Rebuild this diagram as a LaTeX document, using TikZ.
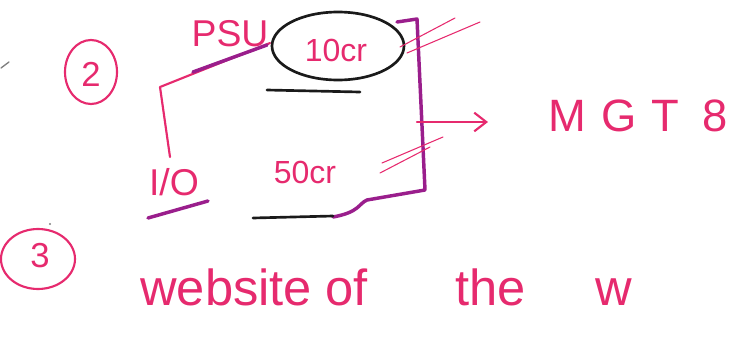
\documentclass[tikz,border=0pt]{standalone}
\usepackage{fontspec}
\setmainfont{Liberation Sans}
\usetikzlibrary{arrows.meta}
\definecolor{inkpink}{HTML}{E62A6E}
\definecolor{inkpurple}{HTML}{9A1E8C}
\definecolor{inkblack}{HTML}{1A1A1A}
\tikzset{
  pinkline/.style={draw=inkpink, line width=1.6pt, line cap=round, line join=round},
  thinpink/.style={draw=inkpink, line width=0.8pt, line cap=round},
  purpleline/.style={draw=inkpurple, line width=2.6pt, line cap=round, line join=round},
  blackline/.style={draw=inkblack, line width=2pt, line cap=round},
  handtext/.style={text=inkpink, inner sep=0pt, font=\fontsize{#1}{#1}\selectfont},
}
\begin{document}
\begin{tikzpicture}[x=0.75pt,y=-0.75pt]
\useasboundingbox (0,0) rectangle (744,354);
% small tick at left
\draw[draw=gray, line width=1pt, line cap=round] (1,68) -- (9,62);
% circled 2
\draw[pinkline] (91,72) ellipse [x radius=26, y radius=32];
\node[handtext=26] (two) at (91,74) {2};
% PSU label and underline
\node[handtext=28] (psu) at (230,34) {PSU};
\draw[pinkline] (170,157) -- (160,87) -- (270,43);
\draw[purpleline] (193,72) -- (267,45);
% circled 10cr
\draw[blackline] (338,46) ellipse [x radius=66, y radius=34];
\node[handtext=24] (tencr) at (336,50) {10cr};
\draw[blackline] (267,90) -- (360,92);
% right side of box
\draw[purpleline] (397,22) -- (417,19) -- (425,190) -- (367,200)
  .. controls (358,204) and (360,212) .. (333,217);
\draw[blackline] (253,218) -- (333,216);
% hatch marks
\draw[thinpink] (400,47) -- (455,18);
\draw[thinpink] (407,53) -- (480,22);
\draw[thinpink] (382,163) -- (443,137);
\draw[thinpink] (380,173) -- (430,147);
% I/O label and underline
\node[handtext=28] (io) at (174,182) {I/O};
\draw[purpleline] (148,218) -- (208,201);
% 50cr
\node[handtext=24] (fiftycr) at (305,172) {50cr};
% arrow to MGT 8
\coordinate (arrstart) at (417,122);
\node[handtext=34] (mgt) at (638,116) {M\,\,G\,\,T\,\,\,8};
\draw[pinkline, -{Straight Barb[length=9pt,width=14pt]}] (arrstart) -- (488,122);
% circled 3
\fill[gray] (50,224) circle (1.2);
\draw[pinkline] (38,259) ellipse [x radius=37, y radius=30];
\node[handtext=26] (three) at (40,256) {3};
% website of the w
\node[handtext=38, anchor=base west] (website) at (140,305) {website};
\node[handtext=38, anchor=base west] (of) at (325,305) {of};
\node[handtext=38, anchor=base west] (the) at (455,305) {the};
\node[handtext=38, anchor=base west] (w) at (595,305) {w};
\end{tikzpicture}
\end{document}
